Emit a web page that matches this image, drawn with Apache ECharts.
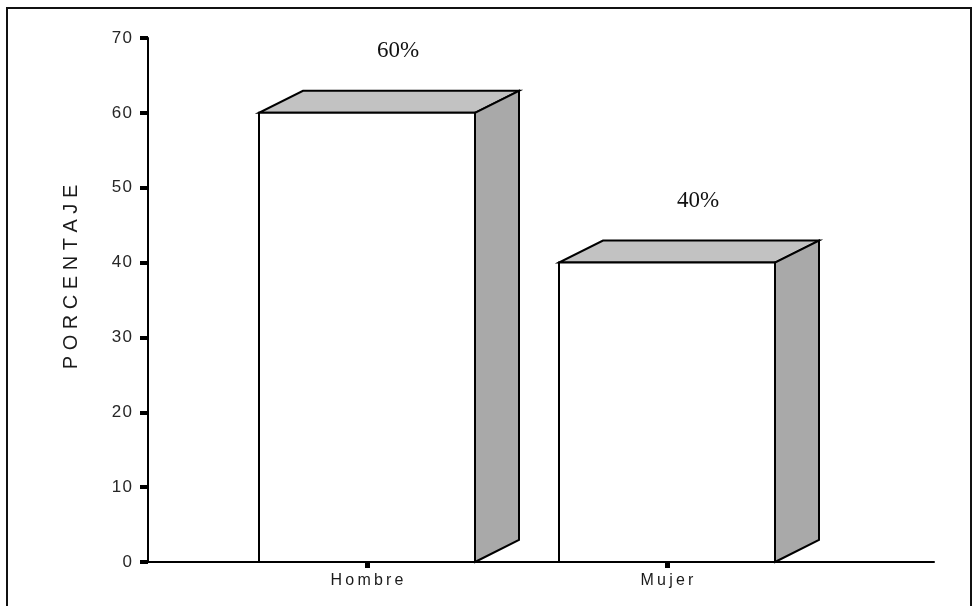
<!DOCTYPE html>
<html>
<head>
<meta charset="utf-8">
<script src="https://cdn.jsdelivr.net/npm/echarts@6/dist/echarts.min.js"></script>
<style>
html,body{margin:0;padding:0;background:#fff;}
#chart{width:978px;height:606px;}
</style>
</head>
<body>
<div id="chart"></div>
<script>
const categories = ['Hombre', 'Mujer'];
const values = [60, 40];
const valueLabels = ['60%', '40%'];
const yAxisTitle = 'PORCENTAJE';

const spaced = s => String(s).split('').join('\u200A');
const spacedWide = s => String(s).split('').join('\u2009');
const DX = 44, DY = 22;

const chart = echarts.init(document.getElementById('chart'));
chart.setOption({
  animation: false,
  backgroundColor: '#fff',
  graphic: [{
    type: 'rect', z: -10,
    shape: { x: 7, y: 8, width: 964, height: 640 },
    style: { fill: 'none', stroke: '#111', lineWidth: 2 }
  }],
  grid: [
    { left: 217, right: 161, top: 38, bottom: 44 },
    { left: 148, right: 44, top: 38, bottom: 44 }
  ],
  xAxis: [
    {
      gridIndex: 0, type: 'category', data: categories, boundaryGap: true,
      axisLine: { show: false },
      axisTick: { show: true, alignWithLabel: true, length: 6, lineStyle: { color: '#000', width: 5 } },
      axisLabel: { margin: 11, fontSize: 16, color: '#1a1a1a', fontFamily: 'Liberation Sans, Arial', formatter: v => spacedWide(v) },
      splitLine: { show: false }
    },
    {
      gridIndex: 1, type: 'value', min: 0, max: 1,
      axisLine: { show: true, lineStyle: { color: '#000', width: 2 } },
      axisTick: { show: false }, axisLabel: { show: false }, splitLine: { show: false }
    }
  ],
  yAxis: [
    { gridIndex: 0, type: 'value', min: 0, max: 70, interval: 10, show: false },
    {
      gridIndex: 1, type: 'value', min: 0, max: 70, interval: 10,
      name: yAxisTitle.split('').join(' '), nameLocation: 'middle', nameGap: 67, nameRotate: 90,
      nameTextStyle: { fontSize: 20, color: '#1a1a1a', fontFamily: 'Liberation Sans, Arial', padding: [0, 0, 0, 46] },
      axisLine: { show: true, lineStyle: { color: '#000', width: 2 } },
      axisTick: { show: true, length: 8, lineStyle: { color: '#000', width: 4 } },
      axisLabel: { margin: 16, fontSize: 17, color: '#262626', fontFamily: 'Liberation Sans, Arial', formatter: v => spaced(v) },
      splitLine: { show: false }
    }
  ],
  series: [{
    type: 'custom',
    xAxisIndex: 0, yAxisIndex: 0,
    clip: false,
    data: values.map((v, i) => [i, v]),
    renderItem: function (params, api) {
      const i = api.value(0);
      const base = api.coord([i, 0]);
      const top = api.coord([i, api.value(1)]);
      const bw = api.size([1, 0])[0] * 0.72;
      const x0 = base[0] - bw / 2, x1 = base[0] + bw / 2;
      const yB = base[1], yT = top[1];
      const stroke = { stroke: '#000', lineWidth: 2, lineJoin: 'miter' };
      return {
        type: 'group',
        children: [
          { type: 'polygon', shape: { points: [[x0, yT], [x1, yT], [x1 + DX, yT - DY], [x0 + DX, yT - DY]] },
            style: Object.assign({ fill: '#c2c2c2' }, stroke) },
          { type: 'polygon', shape: { points: [[x1, yB], [x1 + DX, yB - DY], [x1 + DX, yT - DY], [x1, yT]] },
            style: Object.assign({ fill: '#a9a9a9' }, stroke) },
          { type: 'rect', shape: { x: x0, y: yT, width: bw, height: yB - yT },
            style: Object.assign({ fill: '#ffffff' }, stroke) },
          { type: 'text',
            style: { text: valueLabels[params.dataIndex], x: base[0] + 31, y: yT - DY - 40,
              align: 'center', verticalAlign: 'middle', textAlign: 'center', textVerticalAlign: 'middle',
              font: '23px "Liberation Serif", "Times New Roman", serif', fill: '#111' } }
        ]
      };
    }
  }]
});
</script>
</body>
</html>
